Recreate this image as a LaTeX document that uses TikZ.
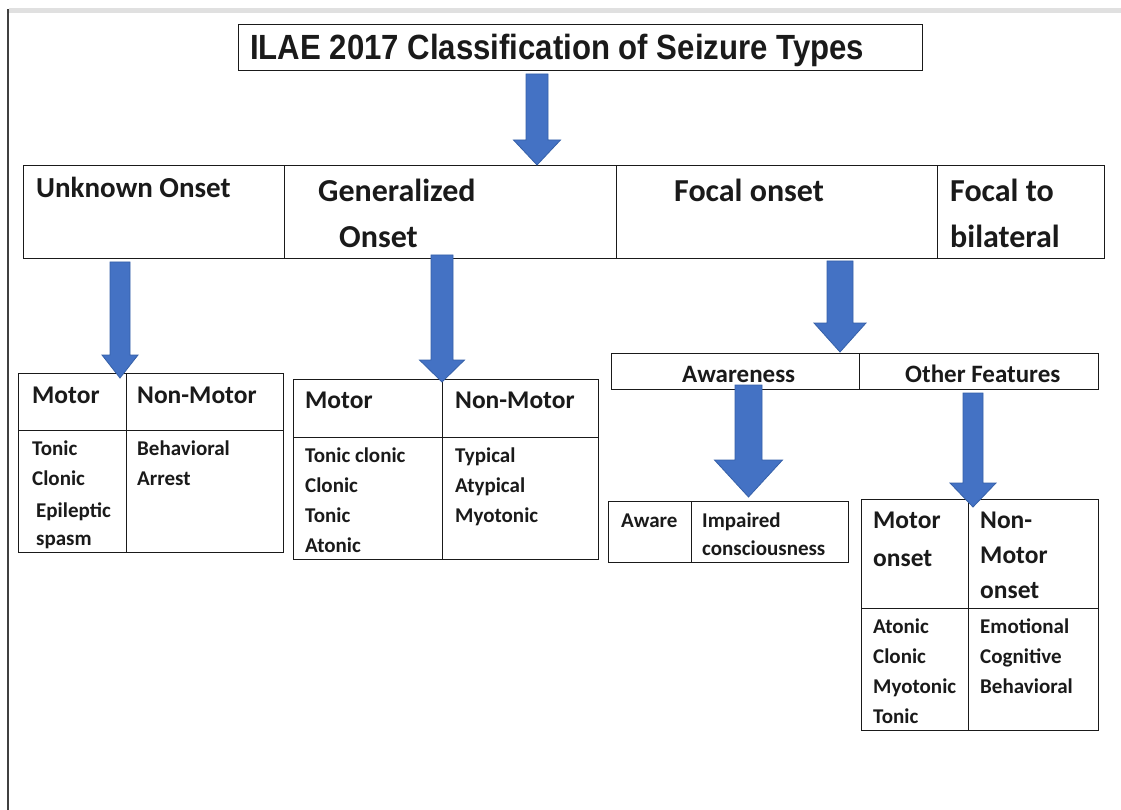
\documentclass[tikz,border=0pt]{standalone}
\usepackage{fontspec}
\setmainfont{Carlito}
\newfontfamily\titlefont{Liberation Sans}[FakeStretch=0.89]
\definecolor{arrfill}{HTML}{4472C4}
\definecolor{arredge}{HTML}{3560A8}
\definecolor{ink}{HTML}{1A1A1A}
\newcommand{\blockarr}[7]{% name, cx, shaft half, top, head base, head half, tip
  \coordinate (#1-tip) at (#2,#7);
  \fill[arrow body] ({#2-#3},#4) -- ({#2+#3},#4) -- ({#2+#3},#5) -- ({#2+#6},#5)
     -- (#1-tip) -- ({#2-#6},#5) -- ({#2-#3},#5) -- cycle;}
\newcommand{\fs}[2]{\fontsize{#1}{#2}\selectfont}
\begin{document}
\begin{tikzpicture}[x=1pt,y=-1pt,
  arrow body/.style={fill=arrfill,draw=arredge,line width=0.8pt,line join=miter},
  cellbox/.style={draw=ink,line width=1.3pt,inner sep=0pt,anchor=north west},
  lbl/.style={anchor=base west,inner sep=0pt,text=ink,font=\bfseries},
  big/.style={lbl,font=\bfseries\fs{32}{46}},
  head/.style={lbl,font=\bfseries\fs{25.5}{35}},
  body/.style={lbl,font=\bfseries\fs{21}{30}}]
\useasboundingbox (0,0) rectangle (1121,810);
\fill[white] (0,0) rectangle (1121,810);
% screenshot frame
\draw[black!12,line width=5pt] (9,11) -- (1121,11);
\draw[black!75,line width=2.5pt] (8,9) -- (8,810);

% title
\node[cellbox,minimum width=684pt,minimum height=46pt] (title) at (238,24) {};
\node[lbl,font=\titlefont\bfseries\fs{35}{40}] (titletxt) at (250,60) {ILAE 2017 Classification of Seizure Types};

% top row
\node[cellbox,minimum width=261pt,minimum height=93pt] (unk) at (23,165) {};
\node[cellbox,minimum width=332pt,minimum height=93pt] (gen) at (284,165) {};
\node[cellbox,minimum width=321pt,minimum height=93pt] (foc) at (616,165) {};
\node[cellbox,minimum width=167pt,minimum height=93pt] (f2b) at (937,165) {};
\node[lbl,font=\bfseries\fs{29}{35}] (unktxt) at (36,198) {Unknown Onset};
\node[big] (gentxt1) at (318,202) {Generalized};
\node[big] (gentxt2) at (339,248) {Onset};
\node[big] (foctxt) at (674,202) {Focal onset};
\node[big] (f2btxt1) at (950,202) {Focal to};
\node[big] (f2btxt2) at (950,248) {bilateral};

% unknown onset table
\node[cellbox,minimum width=108pt,minimum height=57pt] (u11) at (18,373) {};
\node[cellbox,minimum width=157pt,minimum height=57pt] (u12) at (126,373) {};
\node[cellbox,minimum width=108pt,minimum height=122pt] (u21) at (18,430) {};
\node[cellbox,minimum width=157pt,minimum height=122pt] (u22) at (126,430) {};
\node[head] (uh1) at (32,403) {Motor};
\node[head] (uh2) at (137,403) {Non-Motor};
\node[body] (ub1) at (32,455) {Tonic};
\node[body] (ub2) at (32,485) {Clonic};
\node[body] (ub3) at (36,517) {Epileptic};
\node[body] (ub4) at (36,545) {spasm};
\node[body] (ub5) at (137,455) {Behavioral};
\node[body] (ub6) at (137,485) {Arrest};

% generalized onset table
\node[cellbox,minimum width=149pt,minimum height=58pt] (g11) at (293,379) {};
\node[cellbox,minimum width=156pt,minimum height=58pt] (g12) at (442,379) {};
\node[cellbox,minimum width=149pt,minimum height=122pt] (g21) at (293,437) {};
\node[cellbox,minimum width=156pt,minimum height=122pt] (g22) at (442,437) {};
\node[head] (gh1) at (305,408) {Motor};
\node[head] (gh2) at (455,408) {Non-Motor};
\node[body] (gb1) at (305,462) {Tonic clonic};
\node[body] (gb2) at (305,492) {Clonic};
\node[body] (gb3) at (305,522) {Tonic};
\node[body] (gb4) at (305,552) {Atonic};
\node[body] (gb5) at (455,462) {Typical};
\node[body] (gb6) at (455,492) {Atypical};
\node[body] (gb7) at (455,522) {Myotonic};

% awareness / other features
\node[cellbox,minimum width=248pt,minimum height=36pt] (aw) at (611,353) {};
\node[cellbox,minimum width=239pt,minimum height=36pt] (of) at (859,353) {};
\node[lbl,font=\bfseries\fs{25}{30}] (awtxt) at (682,382) {Awareness};
\node[lbl,font=\bfseries\fs{25}{30}] (oftxt) at (905,382) {Other Features};

% aware table
\node[cellbox,minimum width=83pt,minimum height=61pt] (a1) at (608,501) {};
\node[cellbox,minimum width=157pt,minimum height=61pt] (a2) at (691,501) {};
\node[body] (at1) at (621,527) {Aware};
\node[body] (at2) at (702,527) {Impaired};
\node[body] (at3) at (702,555) {consciousness};

% motor onset table
\node[cellbox,minimum width=107pt,minimum height=109pt] (m11) at (861,499) {};
\node[cellbox,minimum width=130pt,minimum height=109pt] (m12) at (968,499) {};
\node[cellbox,minimum width=107pt,minimum height=122pt] (m21) at (861,608) {};
\node[cellbox,minimum width=130pt,minimum height=122pt] (m22) at (968,608) {};
\node[head] (mh1) at (873,528) {Motor};
\node[head] (mh2) at (873,566) {onset};
\node[head] (mh3) at (980,528) {Non-};
\node[head] (mh4) at (980,563) {Motor};
\node[head] (mh5) at (980,598) {onset};
\node[body] (mb1) at (873,633) {Atonic};
\node[body] (mb2) at (873,663) {Clonic};
\node[body] (mb3) at (873,693) {Myotonic};
\node[body] (mb4) at (873,723) {Tonic};
\node[body] (mb5) at (980,633) {Emotional};
\node[body] (mb6) at (980,663) {Cognitive};
\node[body] (mb7) at (980,693) {Behavioral};

% block arrows
\blockarr{a1}{537}{11}{74}{140}{23.5}{165}
\blockarr{a2}{120}{10}{262}{355}{18}{378}
\blockarr{a3}{442}{11}{255}{360}{22.5}{382}
\blockarr{a4}{840}{13}{261}{323}{26}{352}
\blockarr{a5}{748.5}{13.5}{385}{460}{34}{497}
\blockarr{a6}{973}{10}{393}{483}{23}{507}
\end{tikzpicture}
\end{document}
